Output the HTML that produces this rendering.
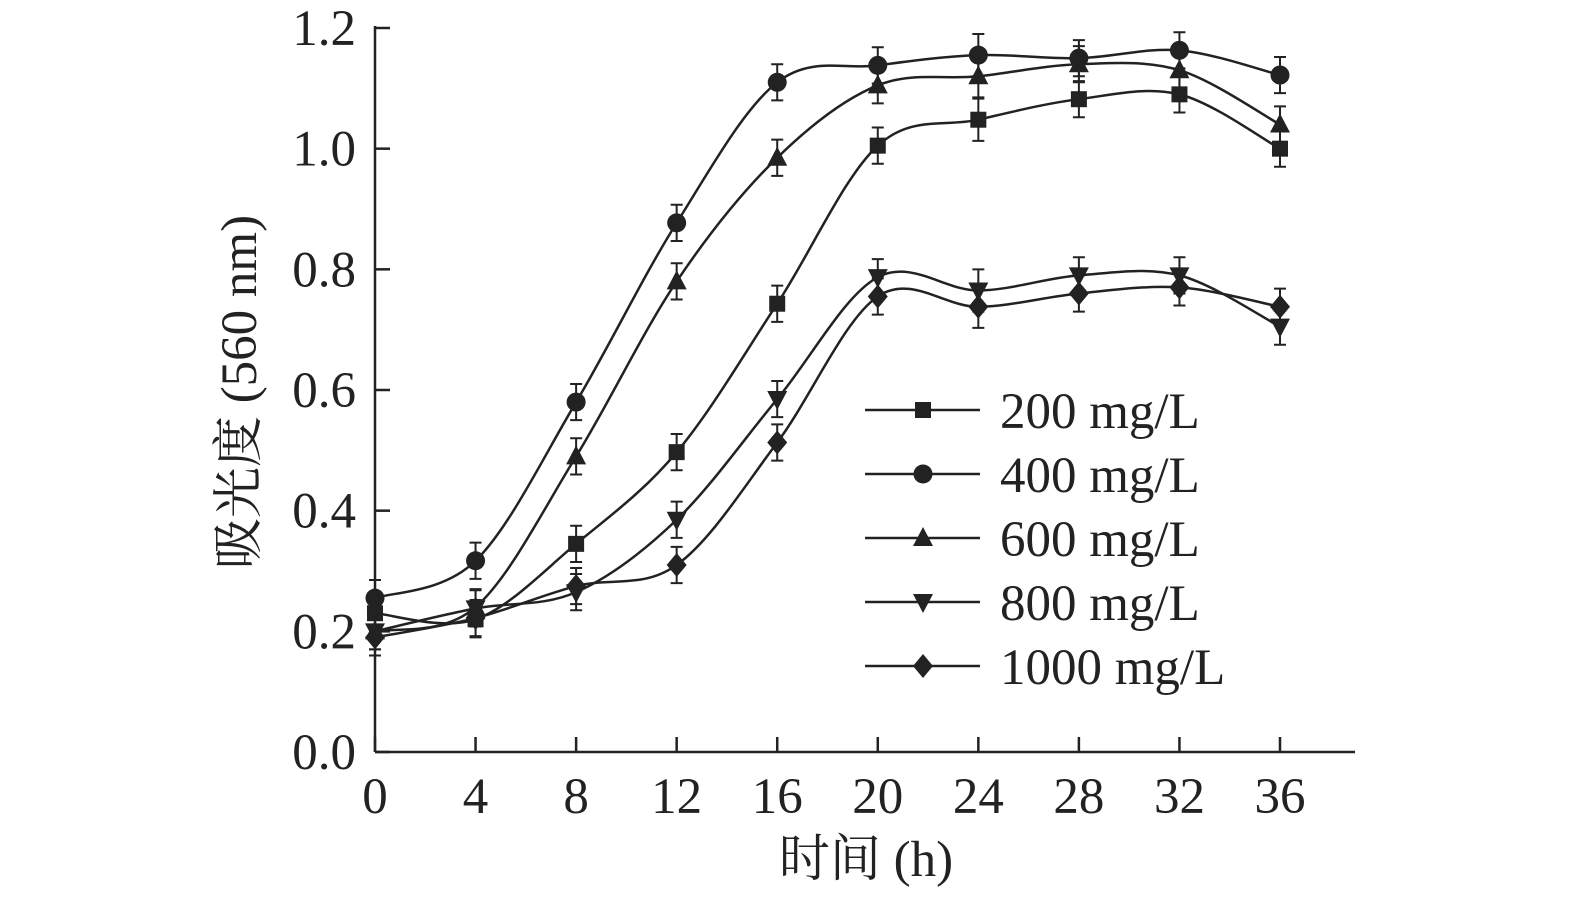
<!DOCTYPE html>
<html><head><meta charset="utf-8"><style>
body{margin:0;background:#fff}
svg text{font-family:"Liberation Serif","Noto Serif CJK SC",serif;fill:#222}
</style></head><body>
<svg id="c" width="1575" height="898" viewBox="0 0 1575 898"></svg>
<script>
const xCats=[0,4,8,12,16,20,24,28,32,36];
const yTicks=[0.0,0.2,0.4,0.6,0.8,1.0,1.2];
const yTickLabels=["0.0","0.2","0.4","0.6","0.8","1.0","1.2"];
const seriesNames=["200 mg/L","400 mg/L","600 mg/L","800 mg/L","1000 mg/L"];
const s200=[0.23,0.22,0.345,0.497,0.743,1.005,1.048,1.082,1.09,1.0];
const s400=[0.255,0.317,0.58,0.877,1.11,1.138,1.155,1.15,1.163,1.122];
const s600=[0.2,0.24,0.49,0.78,0.985,1.105,1.12,1.14,1.13,1.04];
const s800=[0.2,0.238,0.265,0.385,0.585,0.787,0.765,0.79,0.79,0.705];
const s1000=[0.19,0.222,0.275,0.31,0.513,0.755,0.738,0.76,0.77,0.738];
const errs=[0.03,0.03,0.03,0.03,0.03,0.03,0.035,0.03,0.03,0.03];
const markers=["square","circle","up","down","diamond"];
const NS="http://www.w3.org/2000/svg";
const svg=document.getElementById('c');
const X=v=>375+v*(1280-375)/36;
const Y=v=>752-v*(752-28)/1.2;
const FS=51;
function mk(t,a){const e=document.createElementNS(NS,t);for(const k in a)e.setAttribute(k,a[k]);svg.appendChild(e);return e;}
let ax=mk('line',{x1:375,y1:752,x2:1355,y2:752,stroke:'#222','stroke-width':2.5});

let ay=mk('line',{x1:375,y1:752,x2:375,y2:26,stroke:'#222','stroke-width':2.5});

yTicks.forEach((v,i)=>{
  let t=mk('line',{x1:375,y1:Y(v),x2:390,y2:Y(v),stroke:'#222','stroke-width':2.5});
  
  let l=mk('text',{x:356,y:Y(v)+17,'text-anchor':'end','font-size':FS});l.textContent=yTickLabels[i];
  
});
xCats.forEach(v=>{
  let t=mk('line',{x1:X(v),y1:752,x2:X(v),y2:737,stroke:'#222','stroke-width':2.5});
  
  let l=mk('text',{x:X(v),y:813,'text-anchor':'middle','font-size':FS});l.textContent=String(v);
  
});
let xt=mk('text',{x:866,y:876,'text-anchor':'middle','font-size':FS});xt.textContent='时间 (h)';

let yt=mk('text',{x:0,y:0,'text-anchor':'middle','font-size':FS,transform:'translate(256,392) rotate(-90)'});yt.textContent='吸光度 (560 nm)';

function marker(type,x,y){
  let r=10,e;
  if(type==='square')e=mk('rect',{x:x-8,y:y-8,width:16,height:16,fill:'#222'});
  else if(type==='circle')e=mk('circle',{cx:x,cy:y,r:9.5,fill:'#222'});
  else if(type==='up')e=mk('polygon',{points:`${x},${y-r-1} ${x+r},${y+r-2} ${x-r},${y+r-2}`,fill:'#222'});
  else if(type==='down')e=mk('polygon',{points:`${x},${y+r+1} ${x+r},${y-r+2} ${x-r},${y-r+2}`,fill:'#222'});
  else e=mk('polygon',{points:`${x},${y-12} ${x+10},${y} ${x},${y+12} ${x-10},${y}`,fill:'#222'});
  return e;
}
function spline(pts){
  let d=`M${pts[0][0]},${pts[0][1]}`;
  for(let i=0;i<pts.length-1;i++){
    const p0=pts[Math.max(0,i-1)],p1=pts[i],p2=pts[i+1],p3=pts[Math.min(pts.length-1,i+2)];
    const c1=[p1[0]+(p2[0]-p0[0])/6,p1[1]+(p2[1]-p0[1])/6],c2=[p2[0]-(p3[0]-p1[0])/6,p2[1]-(p3[1]-p1[1])/6];
    d+=` C${c1[0]},${c1[1]} ${c2[0]},${c2[1]} ${p2[0]},${p2[1]}`;
  }
  return d;
}
[s200,s400,s600,s800,s1000].forEach((s,si)=>{
  const pts=s.map((v,i)=>[X(xCats[i]),Y(v)]);
  let p=mk('path',{d:spline(pts),fill:'none',stroke:'#222','stroke-width':2.5});
  
  s.forEach((v,i)=>{
    const x=X(xCats[i]),e=errs[i];
    let eb=mk('path',{d:`M${x},${Y(v+e)}V${Y(v-e)}M${x-6},${Y(v+e)}H${x+6}M${x-6},${Y(v-e)}H${x+6}`,stroke:'#222','stroke-width':2,fill:'none'});
    
    let m=marker(markers[si],x,Y(v));
    
  });
  const ly=410+si*64;
  let ll=mk('line',{x1:865,y1:ly,x2:980,y2:ly,stroke:'#222','stroke-width':2.5});
  
  let lm=marker(markers[si],923,ly);
  
  let lt=mk('text',{x:1000,y:ly+18,'font-size':FS});lt.textContent=seriesNames[si];
  
});
</script>
</body></html>
